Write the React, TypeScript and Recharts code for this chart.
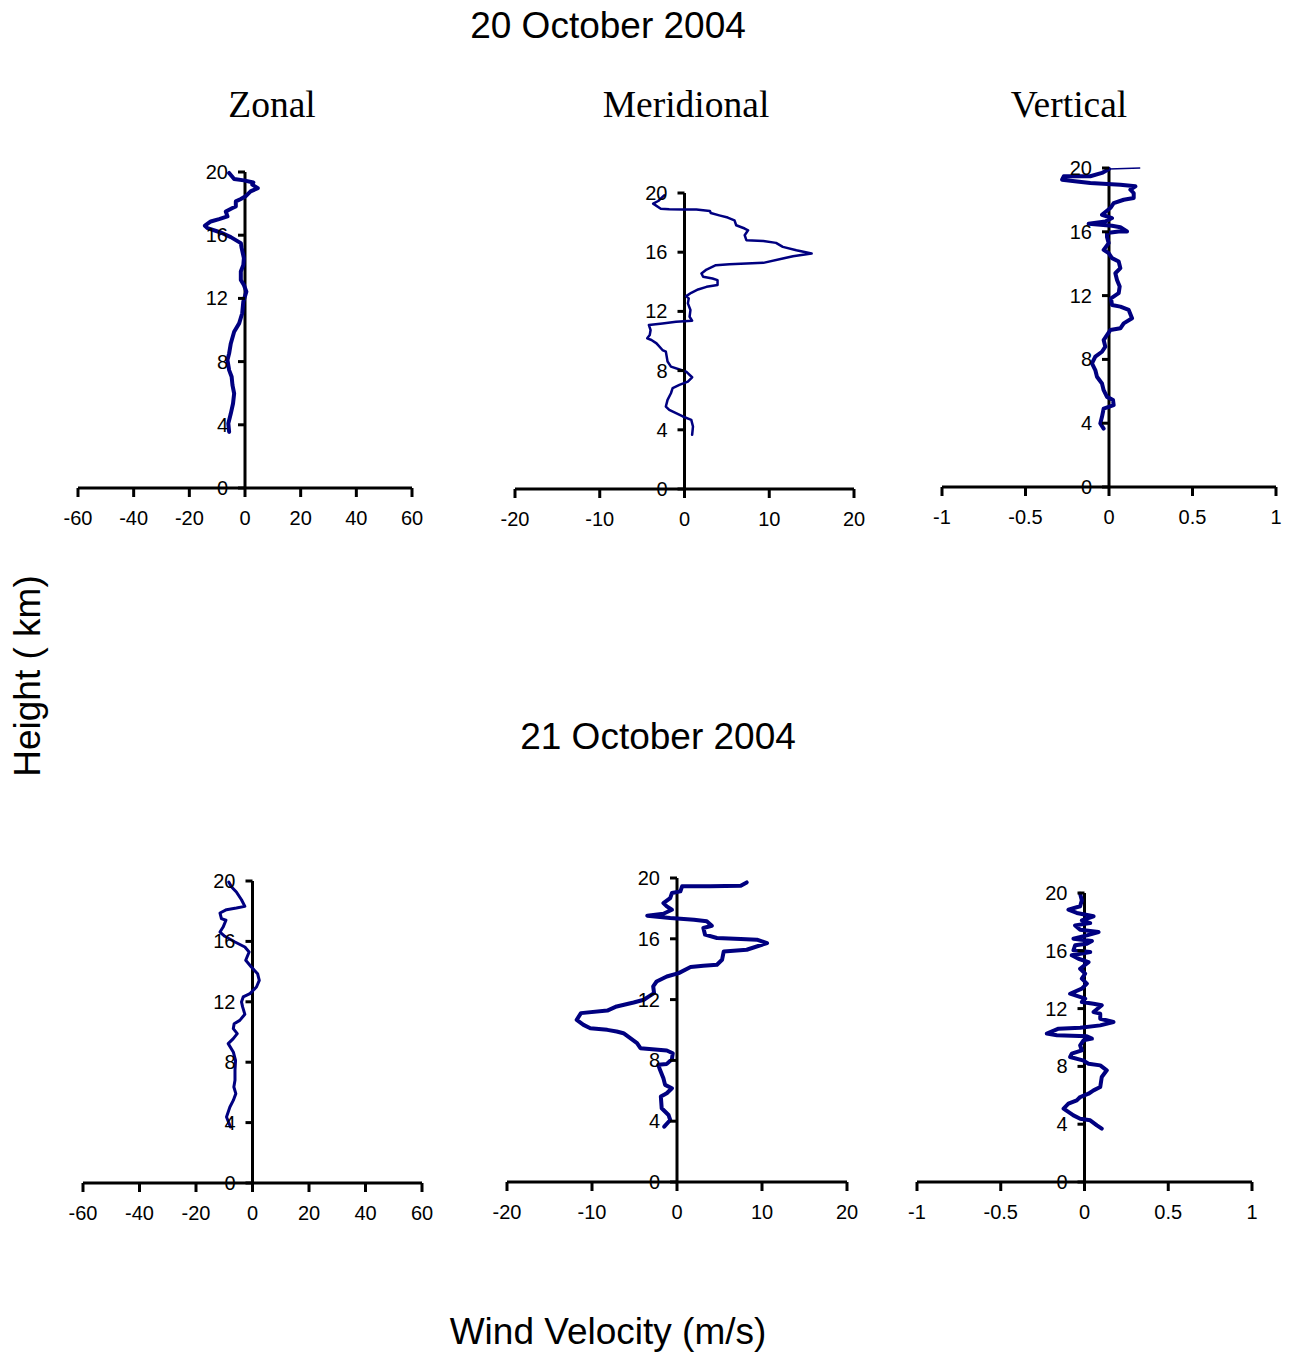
import React from "react";
import { ScatterChart, Scatter, XAxis, YAxis, ReferenceLine } from "recharts";

const heightTicks = [0, 4, 8, 12, 16, 20];
const zonalTicks = [-60, -40, -20, 0, 20, 40, 60];
const meridionalTicks = [-20, -10, 0, 10, 20];
const verticalTicks = [-1, -0.5, 0, 0.5, 1];

// [height km, wind m/s] bottom to top
const zonalOct20: [number, number][] = [
  [3.55, -5.7], [4.08, -6.0], [4.71, -5.1], [5.35, -4.3], [5.98, -3.9], [6.51, -4.5],
  [7.04, -4.8], [7.46, -5.7], [8.1, -6.3], [8.52, -5.7], [9.15, -5.1], [9.89, -3.9],
  [10.42, -2.1], [11.06, -1.0], [11.8, -0.6], [12.43, 0.5], [12.85, -0.4], [13.17, -1.5],
  [13.7, -1.5], [14.12, -0.6], [14.55, -0.4], [15.18, -1.2], [15.5, -1.5], [15.88, -5.1],
  [16.17, -8.7], [16.45, -13.5], [16.6, -14.4], [16.87, -12.3], [17.02, -9.3], [17.19, -6.3],
  [17.5, -6.9], [17.72, -4.5], [17.82, -3.3], [18.14, -3.3], [18.29, -1.5], [18.46, 0.2],
  [18.77, 2.0], [18.98, 4.6], [19.2, 2.6], [19.34, 3.0], [19.47, -0.4], [19.56, -3.9],
  [19.94, -5.7],
];

const meridionalOct20: [number, number][] = [
  [3.66, 0.9], [4.22, 1.0], [4.67, 0.8], [4.9, -0.2], [5.12, -1.0], [5.35, -1.8],
  [5.57, -2.2], [6.02, -2.0], [6.47, -1.6], [6.81, -1.4], [7.03, -0.6], [7.26, 0.4],
  [7.55, 0.9], [7.93, 0.2], [8.04, -0.4], [8.27, -1.6], [8.61, -2.0], [9.28, -2.2],
  [9.39, -2.6], [9.84, -3.3], [10.07, -3.9], [10.18, -4.4], [10.4, -4.1], [10.74, -4.0],
  [11.08, -4.2], [11.19, -2.6], [11.3, -1.0], [11.37, 0.9], [11.64, 0.6], [12.09, 0.7],
  [12.54, 0.4], [12.88, 0.5], [13.03, 0.2], [13.26, 0.8], [13.48, 1.6], [13.66, 2.6],
  [13.78, 3.9], [14.11, 3.9], [14.22, 3.3], [14.34, 2.2], [14.56, 2.0], [14.83, 2.6],
  [15.12, 3.7], [15.19, 5.3], [15.28, 9.3], [15.57, 11.6], [15.73, 12.8], [15.91, 15.0],
  [16.13, 13.2], [16.36, 11.6], [16.63, 10.8], [16.76, 9.3], [16.81, 7.3], [17.15, 7.1],
  [17.48, 7.5], [17.6, 7.1], [17.82, 6.1], [18.15, 5.9], [18.34, 5.1], [18.49, 4.1],
  [18.65, 3.1], [18.79, 3.0], [18.88, 1.4], [18.88, -0.2], [18.9, -1.8], [18.94, -2.8],
  [19.28, -3.7], [19.46, -3.1], [19.84, -2.4],
];

const verticalOct20: [number, number][] = [
  [3.66, -0.032], [3.98, -0.052], [4.4, -0.042], [4.92, -0.032], [5.13, 0.028], [5.45, 0.024],
  [5.65, -0.012], [6.07, -0.032], [6.49, -0.042], [6.91, -0.072], [7.33, -0.082], [7.75, -0.102],
  [8.17, -0.082], [8.48, -0.042], [8.8, -0.022], [9.21, -0.032], [9.53, -0.012], [9.84, 0.008],
  [9.95, 0.068], [10.26, 0.088], [10.58, 0.138], [11.1, 0.118], [11.31, 0.068], [11.41, 0.018],
  [11.83, 0.012], [12.15, 0.058], [12.57, 0.064], [12.98, 0.048], [13.4, 0.038], [13.72, 0.068],
  [14.14, 0.058], [14.35, 0.018], [14.66, -0.002], [14.87, -0.032], [15.29, -0.002], [15.67, -0.012],
  [15.92, -0.012], [16.02, 0.058], [16.02, 0.108], [16.29, 0.068], [16.38, 0.018], [16.5, -0.122],
  [16.65, -0.022], [16.86, 0.018], [17.07, -0.042], [17.49, 0.008], [17.8, 0.028], [18.01, 0.088],
  [18.12, 0.148], [18.43, 0.148], [18.64, 0.128], [18.85, 0.158], [18.95, 0.068], [19.06, -0.112],
  [19.16, -0.192], [19.27, -0.281], [19.48, -0.271], [19.48, -0.112], [19.69, -0.042], [19.94, 0.0],
];

// last thin stretch of the 20 Oct vertical profile
const verticalOct20Top: [number, number][] = [
  [19.94, 0.0], [20.0, 0.187],
];

const zonalOct21: [number, number][] = [
  [3.71, -7.8], [4.37, -9.2], [5.03, -8.0], [5.47, -6.8], [5.92, -5.9], [6.36, -6.6],
  [6.8, -6.2], [7.46, -6.2], [8.12, -6.0], [8.68, -6.8], [9.23, -8.6], [9.56, -6.8],
  [9.89, -5.4], [10.22, -6.8], [10.55, -6.5], [10.77, -4.5], [11.17, -2.7], [11.66, -3.5],
  [11.99, -3.9], [12.32, -3.3], [12.54, -0.9], [12.98, 1.4], [13.42, 2.4], [13.86, 1.8],
  [14.3, -0.4], [14.75, -2.4], [15.3, -1.2], [15.63, -2.7], [15.96, -6.2], [16.34, -9.8],
  [16.62, -11.5], [16.95, -10.4], [17.4, -9.4], [17.51, -11.0], [17.88, -11.5], [18.1, -9.2],
  [18.21, -5.7], [18.32, -2.7], [18.76, -3.9], [19.27, -5.7], [19.6, -7.4], [19.93, -8.4],
];

const meridionalOct21: [number, number][] = [
  [3.64, -1.5], [4.08, -0.8], [4.41, -1.0], [4.85, -1.8], [5.62, -1.9], [5.84, -1.2],
  [6.17, -0.6], [6.39, -1.4], [6.83, -1.6], [7.38, -2.0], [7.71, -2.2], [7.77, -1.2],
  [8.08, -0.6], [8.47, -0.5], [8.65, -1.2], [8.8, -4.3], [9.13, -4.7], [9.46, -5.5],
  [9.79, -6.3], [9.9, -7.1], [10.01, -8.2], [10.12, -10.2], [10.34, -11.0], [10.67, -11.8],
  [11.11, -11.3], [11.28, -8.2], [11.55, -7.1], [11.81, -5.1], [11.99, -3.9], [12.21, -3.3],
  [12.43, -2.7], [12.87, -2.8], [13.19, -2.4], [13.52, -1.2], [13.74, 0.2], [14.14, 1.6],
  [14.23, 3.1], [14.29, 4.7], [14.62, 5.3], [15.17, 5.5], [15.28, 8.2], [15.72, 10.6],
  [15.94, 9.4], [15.98, 7.5], [16.05, 4.7], [16.27, 3.3], [16.71, 3.1], [16.86, 4.1],
  [17.15, 3.5], [17.26, 2.0], [17.37, -0.8], [17.52, -3.5], [17.65, -1.6], [17.91, -0.6],
  [18.13, -1.2], [18.35, -1.6], [18.68, -0.8], [19.01, -0.6], [19.12, 0.4], [19.45, 0.6],
  [19.45, 3.9], [19.49, 7.5], [19.71, 8.2],
];

const verticalOct21: [number, number][] = [
  [3.69, 0.103], [3.92, 0.074], [4.27, 0.034], [4.38, -0.026], [4.61, -0.066], [5.08, -0.125],
  [5.42, -0.096], [5.65, -0.046], [5.88, -0.026], [6.11, 0.024], [6.34, 0.054], [6.57, 0.094],
  [7.27, 0.103], [7.73, 0.133], [8.07, 0.094], [8.19, 0.024], [8.42, -0.01], [8.65, -0.086],
  [8.88, -0.076], [9.11, -0.016], [9.46, -0.026], [9.8, -0.006], [9.92, 0.044], [10.08, 0.014],
  [10.15, -0.165], [10.27, -0.225], [10.61, -0.155], [10.68, -0.026], [10.84, 0.094], [11.07, 0.173],
  [11.3, 0.094], [11.65, 0.094], [11.76, 0.054], [12.23, 0.103], [12.34, 0.054], [12.46, -0.016],
  [12.69, 0.004], [13.03, -0.086], [13.38, -0.016], [13.73, 0.014], [14.07, -0.016], [14.42, 0.004],
  [14.76, -0.026], [15.22, 0.024], [15.45, -0.036], [15.69, -0.076], [15.92, 0.034], [16.03, -0.066],
  [16.38, -0.056], [16.49, 0.014], [16.68, 0.044], [16.84, -0.066], [17.07, 0.014], [17.3, 0.084],
  [17.46, -0.026], [17.76, -0.056], [17.92, 0.034], [18.11, -0.016], [18.39, 0.054], [18.62, -0.046],
  [18.85, -0.096], [19.08, -0.026], [19.49, -0.016], [19.95, -0.026],
];

const LINE = "#000080";
const SANS = "'Liberation Sans', Arial, sans-serif";
const SERIF = "'Liberation Serif', 'Times New Roman', serif";

const ML = 10;
const YW = 10;
const MR = 20;
const MT = 10;
const XH = 45;
const MB = 5;

const NoDot = () => <g />;

function HeightTick(props: any) {
  const { y, payload, zeroX } = props;
  return (
    <g>
      <line x1={zeroX - 7} x2={zeroX} y1={y} y2={y} stroke="#000" strokeWidth={3} />
      <text x={zeroX - 17} y={y + 7} textAnchor="end" fontSize={20} fontFamily={SANS} fill="#000">
        {payload.value}
      </text>
    </g>
  );
}

type ProfileProps = {
  rows: [number, number][];
  extra?: [number, number][];
  ticks: number[];
  left: number;
  right: number;
  top: number;
  bottom: number;
  lineWidth: number;
};

function Profile({ rows, extra, ticks, left, right, top, bottom, lineWidth }: ProfileProps) {
  const plotW = right - left;
  const plotH = bottom - top;
  const zeroX = ML + YW + plotW / 2;
  const data = rows.map(([h, v]) => ({ h, v }));
  const extraData = extra ? extra.map(([h, v]) => ({ h, v })) : null;
  return (
    <div style={{ position: "absolute", left: left - ML - YW, top: top - MT }}>
      <ScatterChart
        width={plotW + ML + YW + MR}
        height={plotH + MT + XH + MB}
        margin={{ top: MT, right: MR, bottom: MB, left: ML }}
      >
        <XAxis
          type="number"
          dataKey="v"
          domain={[ticks[0], ticks[ticks.length - 1]]}
          ticks={ticks}
          interval={0}
          allowDataOverflow
          height={XH}
          axisLine={{ stroke: "#000", strokeWidth: 3 }}
          tickLine={{ stroke: "#000", strokeWidth: 3 }}
          tickSize={9}
          tickMargin={14}
          tick={{ fill: "#000", fontSize: 20, fontFamily: SANS }}
        />
        <YAxis
          type="number"
          dataKey="h"
          domain={[0, 20]}
          ticks={heightTicks}
          interval={0}
          width={YW}
          axisLine={false}
          tickLine={false}
          tick={(p: any) => <HeightTick {...p} zeroX={zeroX} />}
        />
        <ReferenceLine x={0} stroke="#000" strokeWidth={3} />
        <Scatter
          data={data}
          line={{ stroke: LINE, strokeWidth: lineWidth, strokeLinejoin: "round", strokeLinecap: "round" }}
          lineType="joint"
          shape={NoDot}
          isAnimationActive={false}
        />
        {extraData && (
          <Scatter
            data={extraData}
            line={{ stroke: LINE, strokeWidth: 1.5 }}
            lineType="joint"
            shape={NoDot}
            isAnimationActive={false}
          />
        )}
      </ScatterChart>
    </div>
  );
}

export default function App() {
  return (
    <div style={{ position: "absolute", left: 0, top: 0, width: 1299, height: 1353, background: "#fff" }}>
      <svg width={1299} height={1353} style={{ position: "absolute", left: 0, top: 0 }}>
        <text x={608} y={38} textAnchor="middle" fontSize={37} fontFamily={SANS} fill="#000">
          20 October 2004
        </text>
        <text x={272} y={117} textAnchor="middle" fontSize={37.5} fontFamily={SERIF} fill="#000">
          Zonal
        </text>
        <text x={686} y={117} textAnchor="middle" fontSize={37.5} fontFamily={SERIF} fill="#000">
          Meridional
        </text>
        <text x={1069} y={117} textAnchor="middle" fontSize={37.5} fontFamily={SERIF} fill="#000">
          Vertical
        </text>
        <text x={658} y={749} textAnchor="middle" fontSize={37} fontFamily={SANS} fill="#000">
          21 October 2004
        </text>
        <text
          x={40}
          y={676}
          textAnchor="middle"
          fontSize={37}
          fontFamily={SANS}
          fill="#000"
          transform="rotate(-90 40 676)"
        >
          Height ( km)
        </text>
        <text x={608} y={1344} textAnchor="middle" fontSize={37} fontFamily={SANS} fill="#000">
          Wind Velocity (m/s)
        </text>
      </svg>
      <Profile rows={zonalOct20} ticks={zonalTicks} left={78} right={412} top={172} bottom={488} lineWidth={4} />
      <Profile rows={meridionalOct20} ticks={meridionalTicks} left={515} right={854} top={193} bottom={489} lineWidth={2.5} />
      <Profile rows={verticalOct20} extra={verticalOct20Top} ticks={verticalTicks} left={942} right={1276} top={168} bottom={487} lineWidth={4} />
      <Profile rows={zonalOct21} ticks={zonalTicks} left={83} right={422} top={881} bottom={1183} lineWidth={3} />
      <Profile rows={meridionalOct21} ticks={meridionalTicks} left={507} right={847} top={878} bottom={1182} lineWidth={4} />
      <Profile rows={verticalOct21} ticks={verticalTicks} left={917} right={1252} top={893} bottom={1182} lineWidth={4} />
    </div>
  );
}
